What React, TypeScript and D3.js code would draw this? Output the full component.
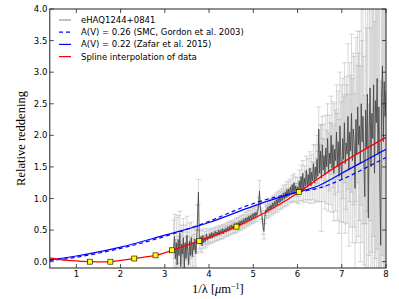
import * as d3 from 'd3';

// spectrum of eHAQ1244+0841, sampled on a regular 1/lambda grid
const SPEC_START = 3.2;
const SPEC_STEP = 0.02;
const specY = [
  0.22, 0.40, 0.05, 0.30, -0.05, 0.35, 0.10, 0.45, -0.08, 0.28,
  0.12, 0.38, -0.10, 0.30, 0.05, 0.42, 0.15, -0.05, 0.33, 0.10,
  0.38, 0.08, 0.30, 0.18, 0.36, 0.12, 0.32, 0.70, 1.10, 0.35,
  0.28, 0.40, 0.25, 0.42, 0.30, 0.38, 0.32, 0.44, 0.34, 0.40,
  0.36, 0.44, 0.37, 0.46, 0.38, 0.45, 0.40, 0.48, 0.41, 0.47,
  0.42, 0.50, 0.43, 0.49, 0.45, 0.52, 0.44, 0.51, 0.47, 0.53,
  0.48, 0.55, 0.49, 0.56, 0.51, 0.58, 0.52, 0.57, 0.54, 0.60,
  0.53, 0.61, 0.55, 0.62, 0.57, 0.64, 0.58, 0.65, 0.60, 0.67,
  0.61, 0.69, 0.63, 0.70, 0.65, 0.72, 0.66, 0.73, 0.68, 0.75,
  0.69, 0.77, 0.71, 0.78, 0.73, 0.80, 0.90, 1.12, 0.85, 0.76,
  0.72, 0.55, 0.48, 0.70, 0.82, 0.78, 0.86, 0.80, 0.88, 0.82,
  0.90, 0.84, 0.93, 0.86, 0.95, 0.88, 0.98, 0.90, 1.00, 0.93,
  1.02, 0.95, 1.05, 0.97, 1.08, 0.99, 1.10, 1.01, 1.14, 1.03,
  1.15, 1.05, 1.18, 1.07, 1.22, 1.08, 1.25, 1.10, 1.20, 1.09,
  1.18, 1.08, 1.28, 1.12, 1.35, 1.15, 1.40, 1.13, 1.32, 1.20,
  1.45, 1.18, 1.38, 1.22, 1.48, 1.20, 1.42, 1.28, 1.55, 1.25,
  1.50, 1.30, 1.62, 1.35, 2.10, 1.40, 1.75, 1.32, 1.85, 1.45,
  1.68, 1.38, 1.80, 1.50, 1.95, 1.42, 1.72, 1.55, 2.00, 1.48,
  1.85, 1.40, 1.78, 1.60, 2.05, 1.50, 1.90, 1.35, 2.15, 1.58,
  1.30, 1.95, 1.62, 2.20, 1.55, 1.88, 1.70, 2.30, 1.45, 2.05,
  1.75, 2.35, 1.60, 2.10, 1.90, 1.16, 2.25, 1.70, 2.45, 1.85,
  2.15, 1.55, 2.50, 1.90, 2.30, 1.60, 1.03, 2.40, 1.80, 2.65,
  0.69, 2.10, 2.75, 1.50, 2.35, 1.95, 2.80, 1.40, 2.55, 2.20,
  2.90, 1.70, 2.45, 1.20, 0.26, 2.60, 3.10, 1.90, 2.85, 2.30,
  2.70,
];
const specErr = [
  0.44, 0.35, 0.30, 0.40, 0.32, 0.38, 0.30, 0.35, 0.40, 0.30,
  0.35, 0.30, 0.38, 0.28, 0.34, 0.30, 0.32, 0.36, 0.28, 0.30,
  0.25, 0.28, 0.22, 0.25, 0.20, 0.22, 0.18, 0.20, 0.20, 0.15,
  0.12, 0.10, 0.11, 0.10, 0.09, 0.10, 0.09, 0.09, 0.08, 0.09,
  0.08, 0.07, 0.08, 0.07, 0.08, 0.07, 0.08, 0.07, 0.08, 0.07,
  0.08, 0.07, 0.08, 0.07, 0.08, 0.07, 0.08, 0.07, 0.08, 0.07,
  0.08, 0.07, 0.08, 0.07, 0.08, 0.07, 0.08, 0.07, 0.08, 0.07,
  0.08, 0.08, 0.08, 0.08, 0.08, 0.08, 0.08, 0.08, 0.08, 0.08,
  0.08, 0.09, 0.08, 0.09, 0.08, 0.09, 0.08, 0.09, 0.08, 0.09,
  0.08, 0.09, 0.08, 0.09, 0.09, 0.09, 0.12, 0.17, 0.10, 0.09,
  0.09, 0.12, 0.12, 0.10, 0.09, 0.10, 0.09, 0.10, 0.10, 0.10,
  0.10, 0.10, 0.11, 0.10, 0.11, 0.10, 0.11, 0.11, 0.11, 0.11,
  0.11, 0.12, 0.11, 0.12, 0.12, 0.12, 0.12, 0.13, 0.12, 0.13,
  0.13, 0.12, 0.13, 0.13, 0.14, 0.13, 0.14, 0.14, 0.14, 0.15,
  0.15, 0.16, 0.17, 0.16, 0.18, 0.18, 0.20, 0.19, 0.20, 0.22,
  0.22, 0.24, 0.25, 0.24, 0.26, 0.28, 0.27, 0.30, 0.30, 0.32,
  0.35, 0.34, 0.38, 0.40, 0.35, 0.45, 0.42, 0.84, 0.45, 0.50,
  0.50, 0.55, 0.52, 0.58, 0.55, 0.62, 0.60, 0.65, 0.62, 0.70,
  0.68, 0.75, 0.72, 0.80, 0.75, 0.85, 0.80, 0.90, 0.85, 0.95,
  1.50, 0.95, 1.00, 0.95, 1.10, 1.05, 1.10, 1.15, 1.20, 1.10,
  1.20, 1.25, 1.30, 1.20, 1.35, 1.50, 1.30, 1.40, 1.20, 1.45,
  1.50, 1.55, 1.60, 1.60, 1.70, 1.65, 1.60, 1.80, 1.90, 1.85,
  1.80, 2.00, 2.10, 2.20, 2.20, 2.30, 2.40, 2.40, 2.50, 2.60,
  2.70, 2.80, 2.70, 2.90, 2.60, 3.00, 3.00, 3.10, 3.00, 3.20,
  3.00,
];

// A(V)=0.26 SMC (Gordon et al. 2003)
const smcX = [0.4, 1, 2, 3, 4, 5, 6, 6.5, 7, 7.5, 8];
const smcY = [0.02, 0.07, 0.21, 0.40, 0.64, 0.92, 1.10, 1.17, 1.30, 1.47, 1.65];
// A(V)=0.22 Zafar et al. 2015
const zafX = [0.4, 1, 2, 3, 4, 5, 6, 6.5, 7, 7.5, 8];
const zafY = [0.03, 0.09, 0.23, 0.42, 0.62, 0.88, 1.10, 1.21, 1.40, 1.59, 1.78];
// spline through knots
const splX = [0.4, 0.8, 1.31, 1.77, 2.31, 2.79, 3.16, 3.78, 4.62, 5.5, 6.03, 6.5, 7.0, 7.5, 8.0];
const splY = [0.06, 0.02, 0.0, 0.0, 0.05, 0.10, 0.18, 0.33, 0.555, 0.87, 1.10, 1.33, 1.56, 1.77, 1.97];
const knotX = [1.31, 1.77, 2.31, 2.79, 3.16, 3.78, 4.62, 6.03];
const knotY = [0.0, 0.0, 0.05, 0.10, 0.18, 0.33, 0.555, 1.10];

const xTicks = [1, 2, 3, 4, 5, 6, 7, 8];
const yTicks = [0, 0.5, 1, 1.5, 2, 2.5, 3, 3.5, 4];

const legendLabels = [
  'eHAQ1244+0841',
  'A(V) = 0.26  (SMC, Gordon et al. 2003)',
  'A(V) = 0.22  (Zafar et al. 2015)',
  'Spline interpolation of data',
];

const W = 399, H = 299;
const L = 49.8, R = 386, T = 9, B = 268;
const FONT = 'DejaVu Sans, sans-serif';

export default function App() {
  const x = d3.scaleLinear().domain([0.4, 8]).range([L, R]);
  const y = d3.scaleLinear().domain([-0.1, 4]).range([B, T]);

  const spec = specY.map((v, i) => ({ x: SPEC_START + SPEC_STEP * i, y: v, e: specErr[i] }));
  const line = d3.line<[number, number]>().x(d => x(d[0])).y(d => y(d[1]));
  const smooth = d3.line<[number, number]>().x(d => x(d[0])).y(d => y(d[1])).curve(d3.curveNatural);

  const specPath = line(spec.map(d => [d.x, d.y] as [number, number])) ?? '';
  const smcPath = smooth(smcX.map((v, i) => [v, smcY[i]] as [number, number])) ?? '';
  const zafPath = smooth(zafX.map((v, i) => [v, zafY[i]] as [number, number])) ?? '';
  const splPath = smooth(splX.map((v, i) => [v, splY[i]] as [number, number])) ?? '';

  const legendStyles = [
    { stroke: '#999', dash: undefined },
    { stroke: '#0000ff', dash: '4,3' },
    { stroke: '#0000ff', dash: undefined },
    { stroke: '#ff0000', dash: undefined },
  ];

  return (
    <svg width={W} height={H} style={{ position: 'absolute', left: 0, top: 0, background: '#fff' }}>
      <defs>
        <clipPath id="plot">
          <rect x={L} y={T} width={R - L} height={B - T} />
        </clipPath>
      </defs>

      <g clipPath="url(#plot)">
        {/* error bars */}
        <g stroke="#a8a8a8" strokeOpacity={0.45} strokeWidth={1}>
          {spec.map((d, i) => {
            const px = x(d.x), y0 = y(d.y - d.e), y1 = y(d.y + d.e);
            return (
              <g key={i}>
                <line x1={px} x2={px} y1={y0} y2={y1} />
                <line x1={px - 2.5} x2={px + 2.5} y1={y0} y2={y0} />
                <line x1={px - 2.5} x2={px + 2.5} y1={y1} y2={y1} />
              </g>
            );
          })}
        </g>
        <path d={specPath} fill="none" stroke="#4a4a4a" strokeWidth={0.9} />
        <path d={smcPath} fill="none" stroke="#0000ff" strokeWidth={1.2} strokeDasharray="4,3" />
        <path d={zafPath} fill="none" stroke="#0000ff" strokeWidth={1.2} />
        <path d={splPath} fill="none" stroke="#ff0000" strokeWidth={1.3} />
        {knotX.map((v, i) => (
          <rect key={i} x={x(v) - 2.5} y={y(knotY[i]) - 2.5} width={5} height={5}
            fill="#ffff00" stroke="#000" strokeWidth={0.6} />
        ))}
      </g>

      {/* frame and ticks */}
      <rect x={L} y={T} width={R - L} height={B - T} fill="none" stroke="#222" strokeWidth={1} />
      <g stroke="#222" strokeWidth={0.8}>
        {xTicks.map(t => (
          <g key={t}>
            <line x1={x(t)} x2={x(t)} y1={B} y2={B - 4} />
            <line x1={x(t)} x2={x(t)} y1={T} y2={T + 4} />
          </g>
        ))}
        {yTicks.map(t => (
          <g key={t}>
            <line x1={L} x2={L + 4} y1={y(t)} y2={y(t)} />
            <line x1={R} x2={R - 4} y1={y(t)} y2={y(t)} />
          </g>
        ))}
      </g>
      <g fontFamily={FONT} fontSize={8.5} fill="#000">
        {xTicks.map(t => (
          <text key={t} x={x(t)} y={B + 9} textAnchor="middle">{t}</text>
        ))}
        {yTicks.map(t => (
          <text key={t} x={L - 2.5} y={y(t) + 3} textAnchor="end">{t.toFixed(1)}</text>
        ))}
      </g>

      {/* axis labels */}
      <text transform={`translate(25,${(T + B) / 2}) rotate(-90)`} textAnchor="middle"
        fontFamily="Liberation Serif, serif" fontSize={12.5}>Relative reddening</text>
      <text x={(L + R) / 2} y={293} textAnchor="middle" fontFamily="Liberation Serif, serif" fontSize={12.5}>
        1/λ  [<tspan fontStyle="italic">μ</tspan>m<tspan dy={-4} fontSize={8}>−1</tspan><tspan dy={4}>]</tspan>
      </text>

      {/* legend */}
      <g fontFamily={FONT} fontSize={8.5}>
        {legendLabels.map((lab, i) => {
          const ly = 20 + i * 12.2;
          return (
            <g key={lab}>
              <line x1={59} x2={71} y1={ly} y2={ly} stroke={legendStyles[i].stroke}
                strokeWidth={1.2} strokeDasharray={legendStyles[i].dash} />
              <text x={81} y={ly + 3}>{lab}</text>
            </g>
          );
        })}
      </g>
    </svg>
  );
}
